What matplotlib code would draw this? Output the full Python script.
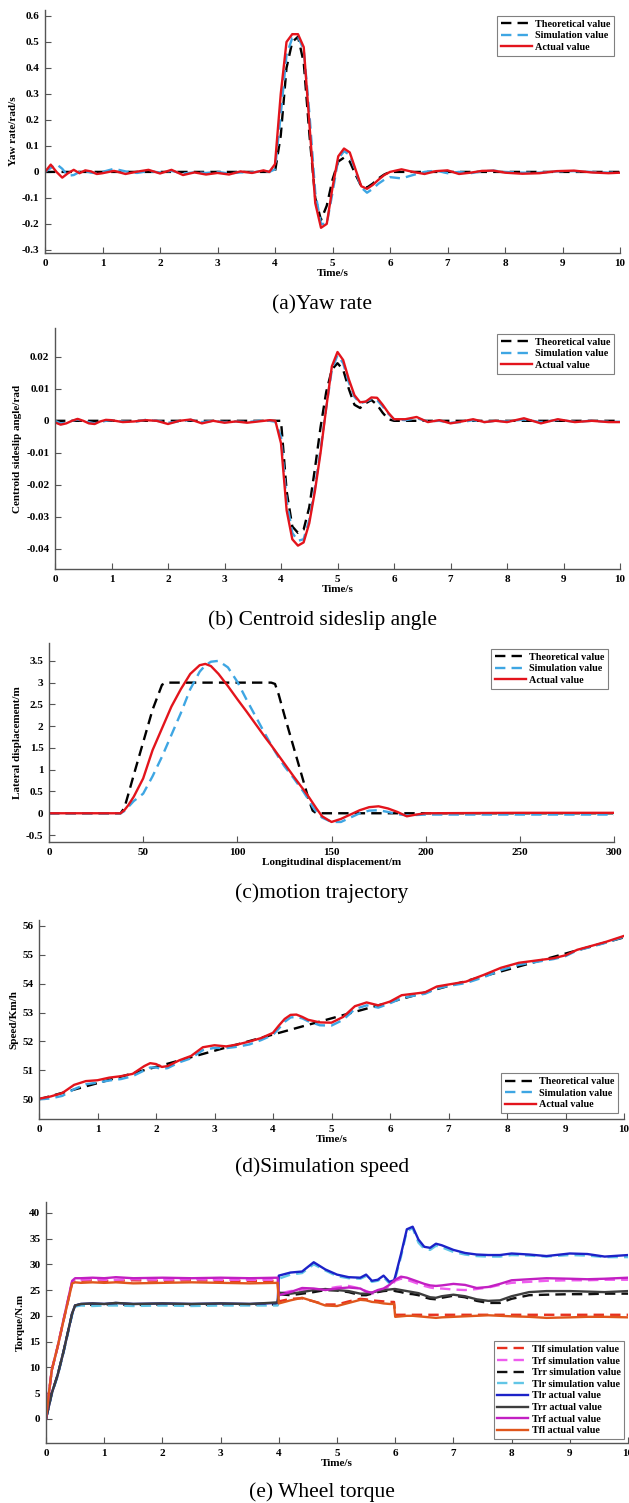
import numpy as np
import matplotlib
matplotlib.use("Agg")
from matplotlib import pyplot as plt

plt.rcParams['font.family'] = ['Liberation Serif', 'DejaVu Serif']
plt.rcParams['axes.unicode_minus'] = False

# ---------------- data ----------------
# shared time grid for yaw rate / sideslip
t_ab = [0, 0.1, 0.2, 0.3, 0.4, 0.5, 0.6, 0.7, 0.8, 0.9, 1.0,
        1.2, 1.4, 1.6, 1.8, 2.0, 2.2, 2.4, 2.6, 2.8, 3.0, 3.2, 3.4, 3.6, 3.8,
        3.9, 4.0, 4.1, 4.2, 4.3, 4.4, 4.5, 4.6, 4.7, 4.8, 4.9, 5.0, 5.1, 5.2,
        5.3, 5.4, 5.5, 5.6, 5.7, 5.8, 5.9, 6.0,
        6.2, 6.4, 6.6, 6.8, 7.0, 7.2, 7.4, 7.6, 7.8, 8.0, 8.3, 8.6, 8.9, 9.2,
        9.5, 9.8, 10.0]

yaw_theory = [0] * 11 + [0] * 14 + [
    0.0, 0.0, 0.14, 0.40, 0.50, 0.52, 0.42, 0.14, -0.10, -0.185, -0.13,
    -0.03, 0.04, 0.055, 0.04, -0.01, -0.055, -0.06, -0.045, -0.025, -0.01,
    0.0] + [0] * 17
yaw_sim = [0.0, 0.015, 0.03, 0.012, -0.015, -0.012, 0.0, 0.003, -0.003, -0.005, 0.0,
           0.012, 0.002, -0.004, 0.003, -0.002, 0.004, -0.006, -0.002, -0.004, 0.0,
           -0.006, -0.002, -0.002, 0.004,
           0.0, 0.01, 0.22, 0.45, 0.515, 0.52, 0.47, 0.22, -0.08, -0.2, -0.2,
           -0.08, 0.05, 0.08, 0.065, 0.005, -0.06, -0.08, -0.065, -0.045, -0.03,
           -0.02,
           -0.025, -0.012, 0.0, 0.005, -0.005, 0.0, -0.005, 0.002, 0.005, 0.0,
           -0.003, -0.003, 0.002, 0.003, 0.0, -0.003, -0.002]
yaw_actual = [0.0, 0.028, 0.0, -0.022, -0.005, 0.008, -0.005, 0.006, 0.002, -0.008, -0.005,
              0.004, -0.008, 0.001, 0.008, -0.006, 0.008, -0.012, -0.002, -0.01, -0.004,
              -0.01, 0.002, -0.004, 0.006,
              0.0, 0.03, 0.3, 0.5, 0.53, 0.53, 0.48, 0.18, -0.12, -0.215, -0.2,
              -0.06, 0.06, 0.09, 0.075, 0.01, -0.055, -0.065, -0.05, -0.03, -0.012,
              0.0,
              0.01, 0.0, -0.008, 0.003, 0.006, -0.008, -0.003, 0.004, 0.005, -0.003,
              -0.007, -0.005, 0.003, 0.005, -0.002, -0.005, -0.003]

beta_theory = [0] * 25 + [
    0.0, 0.0, -0.022, -0.033, -0.035, -0.034, -0.027, -0.015, -0.002, 0.009,
    0.016, 0.018, 0.016, 0.01, 0.005, 0.004, 0.0055, 0.0065, 0.005, 0.0025,
    0.0005, 0.0] + [0] * 17
beta_sim = [0.0, -0.0008, -0.0006, 0.0, 0.0004, 0.0, -0.0004, -0.0008, -0.0004, 0.0, 0.0002,
            -0.0002, -0.0004, 0.0003, 0.0, -0.0006, -0.0002, 0.0003, -0.0004, 0.0,
            -0.0004, -0.0002, -0.0004, 0.0, 0.0,
            -0.0003, -0.005, -0.025, -0.035, -0.0375, -0.037, -0.031, -0.021, -0.009,
            0.004, 0.016, 0.0205, 0.018, 0.012, 0.0075, 0.0055, 0.006, 0.0068, 0.0065,
            0.0045, 0.0022, 0.0005,
            0.0002, 0.0008, -0.0002, 0.0, -0.0006, -0.0004, 0.0002, -0.0004, 0.0,
            -0.0002, 0.0004, -0.0004, 0.0003, -0.0003, 0.0, -0.0003, -0.0003]
beta_actual = [-0.0005, -0.0012, -0.0008, 0.0, 0.0006, 0.0, -0.0008, -0.001, -0.0002, 0.0003, 0.0002,
               -0.0004, -0.0002, 0.0002, 0.0, -0.001, 0.0, 0.0004, -0.0008, 0.0,
               -0.0006, -0.0002, -0.0006, -0.0002, 0.0002,
               0.0, -0.007, -0.028, -0.037, -0.039, -0.038, -0.032, -0.022, -0.01,
               0.004, 0.017, 0.0215, 0.019, 0.013, 0.008, 0.0058, 0.006, 0.0073,
               0.0072, 0.005, 0.0025, 0.0005,
               0.0005, 0.0012, -0.0004, 0.0002, -0.0008, -0.0002, 0.0005, -0.0004, 0.0,
               -0.0004, 0.0008, -0.0008, 0.0005, -0.0004, 0.0, -0.0004, -0.0004]

# trajectory
x_c = [0, 35, 38, 40, 42, 45, 50, 55, 60, 62, 65, 70, 75, 80, 83, 86, 90, 95, 100,
       105, 110, 115, 118, 120, 122, 125, 130, 135, 138, 140, 142, 145, 150, 155,
       160, 165, 170, 175, 180, 185, 190, 195, 200, 250, 300]
lat_theory = [0, 0, 0, 0.12, 0.42, 0.88, 1.63, 2.38, 2.95, 3.0, 3.0, 3.0, 3.0, 3.0,
              3.0, 3.0, 3.0, 3.0, 3.0, 3.0, 3.0, 3.0, 3.0, 2.97, 2.72, 2.25, 1.5,
              0.75, 0.3, 0.06, 0.0, 0, 0, 0, 0, 0, 0, 0, 0, 0, 0, 0, 0, 0, 0]
lat_sim = [0, 0, 0, 0.05, 0.14, 0.28, 0.45, 0.85, 1.3, 1.5, 1.8, 2.3, 2.85, 3.25,
           3.4, 3.48, 3.5, 3.35, 3.02, 2.6, 2.2, 1.8, 1.57, 1.42, 1.28, 1.08, 0.8,
           0.5, 0.3, 0.15, 0.03, -0.1, -0.2, -0.2, -0.1, 0.0, 0.06, 0.07, 0.03,
           -0.02, -0.05, -0.04, -0.03, -0.03, -0.03]
lat_actual = [0, 0, 0, 0.07, 0.18, 0.38, 0.8, 1.45, 1.95, 2.15, 2.45, 2.85, 3.2, 3.4,
              3.43, 3.38, 3.2, 2.92, 2.62, 2.33, 2.03, 1.73, 1.56, 1.44, 1.32, 1.14,
              0.84, 0.55, 0.37, 0.24, 0.11, -0.07, -0.2, -0.13, -0.03, 0.07, 0.14,
              0.16, 0.11, 0.03, -0.07, -0.03, 0.0, 0.01, 0.01]

# speed
t_d = [0, 0.2, 0.4, 0.6, 0.8, 1.0, 1.2, 1.4, 1.6, 1.8, 1.9, 2.0, 2.1, 2.2, 2.4, 2.6,
       2.8, 3.0, 3.2, 3.4, 3.6, 3.8, 4.0, 4.1, 4.2, 4.3, 4.4, 4.5, 4.6, 4.8, 5.0,
       5.2, 5.4, 5.6, 5.8, 6.0, 6.2, 6.4, 6.6, 6.8, 7.0, 7.3, 7.6, 7.9, 8.2, 8.5,
       8.8, 9.0, 9.2, 9.4, 9.7, 10.0]
t_d_theory = [0, 10]
speed_theory = [50.0, 55.6]
speed_sim = [50.0, 50.03, 50.12, 50.35, 50.52, 50.58, 50.65, 50.7, 50.8, 51.0, 51.1,
             51.1, 51.05, 51.08, 51.28, 51.42, 51.7, 51.78, 51.77, 51.82, 51.9, 52.05,
             52.23, 52.45, 52.68, 52.83, 52.85, 52.8, 52.7, 52.56, 52.55, 52.75, 53.12,
             53.25, 53.17, 53.32, 53.5, 53.58, 53.65, 53.83, 53.92, 54.02, 54.22,
             54.47, 54.65, 54.75, 54.85, 54.95, 55.15, 55.25, 55.42, 55.62]
speed_actual = [50.02, 50.1, 50.22, 50.5, 50.63, 50.66, 50.75, 50.8, 50.88, 51.15,
                51.25, 51.22, 51.12, 51.15, 51.35, 51.5, 51.8, 51.87, 51.83, 51.9, 52.0,
                52.12, 52.3, 52.55, 52.78, 52.92, 52.93, 52.85, 52.75, 52.66, 52.65,
                52.85, 53.22, 53.35, 53.25, 53.38, 53.6, 53.65, 53.7, 53.9, 53.97,
                54.07, 54.3, 54.55, 54.72, 54.8, 54.88, 54.98, 55.17, 55.28, 55.45,
                55.65]

# wheel torque
t_e = [0, 0.05, 0.1, 0.2, 0.3, 0.45, 0.5, 0.6, 0.8, 1.0, 1.2, 1.5, 2.0, 2.5, 3.0,
       3.5, 3.98, 4.0, 4.2, 4.4, 4.6, 4.8, 5.0, 5.2, 5.4, 5.5, 5.6, 5.7, 5.8, 5.9,
       5.98, 6.0, 6.1, 6.2, 6.3, 6.4, 6.5, 6.6, 6.7, 6.8, 7.0, 7.2, 7.4, 7.6, 7.8,
       8.0, 8.3, 8.6, 9.0, 9.3, 9.6, 10.0]
tlf_sim = [0, 5, 9.5, 14, 19, 26.5, 26.8, 26.8, 26.9, 26.8, 26.8, 26.9, 26.8, 26.9,
           26.8, 26.8, 26.8, 22.8, 23.3, 23.4, 22.8, 22.2, 22.2, 22.8, 23.3, 23.2,
           23.0, 22.9, 22.8, 22.7, 22.7, 20.2, 20.2, 20.2, 20.2, 20.2, 20.2, 20.2,
           20.2, 20.2, 20.2, 20.2, 20.2, 20.2, 20.2, 20.2, 20.2, 20.2, 20.2, 20.2,
           20.2, 20.2]
trf_sim = [0, 5, 9.5, 14, 19.1, 26.6, 27.0, 27.0, 27.1, 27.0, 27.0, 27.1, 27.0,
           27.1, 27.0, 27.0, 27.0, 24.3, 24.8, 25.0, 24.8, 25.2, 25.6, 25.8, 25.3,
           24.8, 24.3, 24.5, 25.0, 25.8, 26.5, 26.8, 27.2, 27.0, 26.6, 26.2, 25.8,
           25.5, 25.3, 25.3, 25.1, 25.0, 25.2, 25.5, 26.0, 26.4, 26.6, 26.8, 26.9,
           26.9, 27.0, 27.0]
trr_sim = [0, 2.5, 5, 8.5, 13, 20.5, 22.0, 22.2, 22.1, 22.2, 22.2, 22.1, 22.2, 22.1,
           22.2, 22.2, 22.2, 24.2, 24.0, 24.3, 24.6, 25.0, 24.9, 24.6, 24.0, 24.0,
           24.3, 24.6, 24.8, 24.9, 24.9, 24.8, 24.6, 24.3, 24.2, 24.0, 23.6, 23.3,
           23.2, 23.5, 23.9, 23.6, 22.9, 22.5, 22.5, 23.3, 24.0, 24.1, 24.2, 24.2,
           24.3, 24.3]
tlr_sim = [0, 2.4, 4.8, 8.3, 12.8, 20.2, 21.8, 22.0, 21.9, 22.0, 22.0, 21.9, 22.0,
           21.9, 22.0, 22.0, 22.0, 27.2, 28.0, 28.3, 30.0, 28.8, 27.7, 27.3, 27.2,
           27.7, 26.6, 26.8, 27.5, 26.3, 26.6, 27.2, 31.5, 36.5, 37.0, 34.2, 33.0,
           32.8, 33.6, 33.3, 32.4, 31.9, 31.6, 31.5, 31.5, 31.8, 31.7, 31.5, 31.8,
           31.7, 31.4, 31.4]
tlr_actual = [0, 2.5, 5, 8.5, 13, 20.5, 22.0, 22.3, 22.4, 22.3, 22.5, 22.3, 22.4,
              22.3, 22.4, 22.3, 22.5, 27.8, 28.4, 28.6, 30.4, 29.0, 28.0, 27.5, 27.4,
              28.0, 26.8, 27.0, 27.8, 26.6, 26.9, 27.6, 32.0, 36.8, 37.3, 34.8, 33.4,
              33.2, 34.0, 33.7, 32.8, 32.2, 31.9, 31.8, 31.8, 32.1, 31.9, 31.6, 32.1,
              32.0, 31.5, 31.8]
trr_actual = [0, 2.5, 5, 8.5, 13, 20.5, 22.0, 22.3, 22.4, 22.3, 22.5, 22.3, 22.4,
              22.3, 22.4, 22.3, 22.6, 24.5, 24.3, 24.6, 25.0, 25.2, 25.0, 24.8, 24.3,
              24.3, 24.5, 24.8, 25.0, 25.1, 25.2, 25.2, 25.0, 24.8, 24.6, 24.4, 24.0,
              23.6, 23.5, 23.8, 24.1, 23.8, 23.2, 22.9, 23.0, 23.8, 24.6, 24.8, 24.8,
              24.7, 24.6, 24.8]
trf_actual = [0, 5, 9.5, 14, 19.2, 26.8, 27.3, 27.3, 27.4, 27.3, 27.5, 27.3, 27.4,
              27.3, 27.4, 27.3, 27.4, 24.0, 24.6, 25.4, 25.3, 25.0, 25.3, 25.5, 25.3,
              24.7, 24.5, 25.0, 25.3, 26.0, 26.8, 27.0, 27.6, 27.4, 27.0, 26.6, 26.2,
              25.9, 25.8, 25.9, 26.2, 26.0, 25.4, 25.6, 26.2, 26.9, 27.1, 27.3, 27.2,
              27.1, 27.2, 27.4]
tfl_actual = [0, 5, 9.5, 14, 19, 26.3, 26.5, 26.4, 26.5, 26.4, 26.5, 26.3, 26.4,
              26.5, 26.4, 26.3, 26.4, 22.4, 23.0, 23.5, 22.8, 22.0, 21.9, 22.5, 23.1,
              23.0, 22.7, 22.6, 22.4, 22.3, 22.3, 19.8, 19.9, 20.0, 20.0, 19.9, 19.8,
              19.7, 19.6, 19.7, 19.8, 19.9, 20.0, 20.1, 20.0, 19.9, 19.8, 19.6, 19.7,
              19.8, 19.8, 19.7]

yticks_a = [-0.3, -0.2, -0.1, 0, 0.1, 0.2, 0.3, 0.4, 0.5, 0.6]
yticks_b = [-0.04, -0.03, -0.02, -0.01, 0, 0.01, 0.02]
yticks_c = [-0.5, 0, 0.5, 1, 1.5, 2, 2.5, 3, 3.5]
yticks_d = [50, 51, 52, 53, 54, 55, 56]
yticks_e = [0, 5, 10, 15, 20, 25, 30, 35, 40]
xticks_t = [0, 1, 2, 3, 4, 5, 6, 7, 8, 9, 10]
xticks_c = [0, 50, 100, 150, 200, 250, 300]

# ---------------- figure ----------------
W, H = 629, 1503
fig = plt.figure(figsize=(W / 100, H / 100), dpi=100)

C_BLACK = 'black'
C_SIM = '#3ea6e3'
C_RED = '#e3141c'
DASH = (0, (4.4, 2.6))
LW = 1.7
FS = 8
TXT = dict(fontfamily='Liberation Serif', fontweight='bold')


def make_ax(left, right, top, bottom):
    ax = fig.add_axes([left / W, 1 - bottom / H, (right - left) / W, (bottom - top) / H])
    for s in ['top', 'right']:
        ax.spines[s].set_visible(False)
    for s in ['left', 'bottom']:
        ax.spines[s].set_color('#555555')
        ax.spines[s].set_linewidth(1.0)
    ax.tick_params(direction='in', length=4, width=0.8, color='#555555',
                   labelsize=FS, pad=4)
    return ax


def finish(ax, xticks, yticks, xlabel, ylabel):
    ax.set_xticks(xticks)
    ax.set_yticks(yticks)
    ax.set_xticklabels([f"{v:g}" for v in xticks], fontsize=FS, fontweight='bold')
    ax.set_yticklabels([f"{v:g}" for v in yticks], fontsize=FS, fontweight='bold')
    ax.set_xlabel(xlabel, fontsize=FS, labelpad=1, **TXT)
    ax.set_ylabel(ylabel, fontsize=FS, labelpad=3, **TXT)


def add_legend(ax, loc, pad):
    leg = ax.legend(loc=loc, prop={'family': 'Liberation Serif', 'weight': 'bold', 'size': 7.3},
                    fancybox=False, edgecolor='#808080', framealpha=1,
                    handlelength=3.1, handletextpad=0.3, labelspacing=0.25,
                    borderpad=0.35, borderaxespad=pad)
    leg.get_frame().set_linewidth(0.8)
    return leg


def three(ax, tt, th, ts, sv, ta, av):
    ax.plot(tt, th, color=C_BLACK, ls=DASH, lw=LW, label='Theoretical value')
    ax.plot(ts, sv, color=C_SIM, ls=DASH, lw=LW, label='Simulation value')
    ax.plot(ta, av, color=C_RED, lw=LW, label='Actual value')


# (a) yaw rate
ax = make_ax(45, 620, 10, 253)
three(ax, t_ab, yaw_theory, t_ab, yaw_sim, t_ab, yaw_actual)
ax.set_xlim(0, 10)
ax.set_ylim(-0.312, 0.623)
finish(ax, xticks_t, yticks_a, 'Time/s', 'Yaw rate/rad/s')
add_legend(ax, 'upper right', 0.6)

# (b) sideslip
ax = make_ax(55, 620, 328, 569)
three(ax, t_ab, beta_theory, t_ab, beta_sim, t_ab, beta_actual)
ax.set_xlim(0, 10)
ax.set_ylim(-0.0463, 0.029)
finish(ax, xticks_t, yticks_b, 'Time/s', 'Centroid sideslip angle/rad')
add_legend(ax, 'upper right', 0.6)

# (c) trajectory
ax = make_ax(49, 614, 643, 842)
three(ax, x_c, lat_theory, x_c, lat_sim, x_c, lat_actual)
ax.set_xlim(0, 300)
ax.set_ylim(-0.66, 3.91)
finish(ax, xticks_c, yticks_c, 'Longitudinal displacement/m', 'Lateral displacement/m')
add_legend(ax, 'upper right', 0.6)

# (d) speed
ax = make_ax(39, 624, 920, 1119)
three(ax, t_d_theory, speed_theory, t_d, speed_sim, t_d, speed_actual)
ax.set_xlim(0, 10)
ax.set_ylim(49.32, 56.2)
finish(ax, xticks_t, yticks_d, 'Time/s', 'Speed/Km/h')
add_legend(ax, 'lower right', 0.6)

# (e) wheel torque
ax = make_ax(46, 628, 1202, 1443)
ax.plot(t_e, tlf_sim, color='#e8301e', ls=DASH, lw=LW, label='Tlf simulation value')
ax.plot(t_e, trf_sim, color='#ee5cee', ls=DASH, lw=LW, label='Trf simulation value')
ax.plot(t_e, trr_sim, color='#111111', ls=DASH, lw=LW, label='Trr simulation value')
ax.plot(t_e, tlr_sim, color='#62c6e6', ls=DASH, lw=LW, label='Tlr simulation value')
ax.plot(t_e, tlr_actual, color='#1c22c8', lw=LW, label='Tlr actual value')
ax.plot(t_e, trr_actual, color='#3d3d3d', lw=LW, label='Trr actual value')
ax.plot(t_e, trf_actual, color='#c21fc2', lw=LW, label='Trf actual value')
ax.plot(t_e, tfl_actual, color='#e0561c', lw=LW, label='Tfl actual value')
ax.set_xlim(0, 10)
ax.set_ylim(-4.7, 42.1)
finish(ax, xticks_t, yticks_e, 'Time/s', 'Torque/N.m')
add_legend(ax, 'lower right', 0.4)

# captions
captions = ['(a)Yaw rate', '(b) Centroid sideslip angle', '(c)motion trajectory',
            '(d)Simulation speed', '(e) Wheel torque']
cap_y = [305, 620, 893, 1167, 1492]
for txt, y in zip(captions, cap_y):
    fig.text(322 / W, 1 - y / H, txt, ha='center', va='center',
             fontsize=15.5, fontfamily='Liberation Serif')

fig.savefig('out.png', dpi=100)
